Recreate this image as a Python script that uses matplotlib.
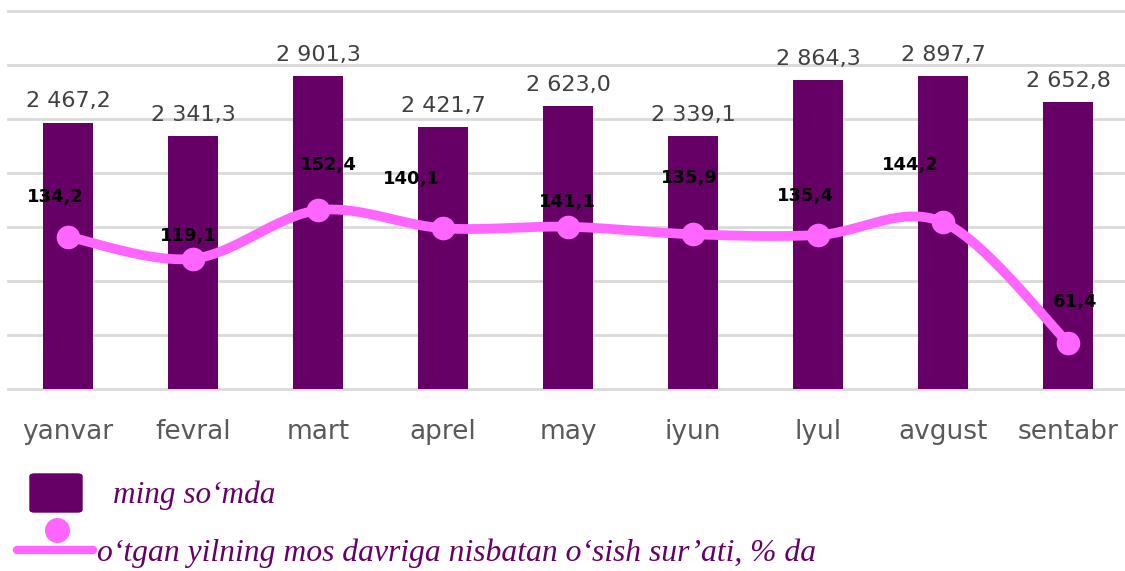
import numpy as np
import matplotlib
matplotlib.use('Agg')
import matplotlib.pyplot as plt
from matplotlib.patches import FancyBboxPatch
from matplotlib.lines import Line2D

months = ['yanvar', 'fevral', 'mart', 'aprel', 'may', 'iyun', 'lyul', 'avgust', 'sentabr']
amount = [2467.2, 2341.3, 2901.3, 2421.7, 2623.0, 2339.1, 2864.3, 2897.7, 2652.8]
growth = [134.2, 119.1, 152.4, 140.1, 141.1, 135.9, 135.4, 144.2, 61.4]
# label offsets (pixels) for the growth values, as placed in the original
growth_offsets = [(-13, 40), (-5, 23), (10, 45), (-32, 49), (-1, 25), (-4, 56), (-13, 39), (-33, 57), (7, 41)]

bar_color = '#660066'
line_color = '#FF66FF'


def fmt(v):
    s = f'{v:,.1f}'
    return s.replace(',', ' ').replace('.', ',')


def smooth(xs, ys, n=30):
    # Catmull-Rom spline through the points (like Excel "smoothed line")
    pts = np.column_stack([xs, ys])
    out = []
    for i in range(len(pts) - 1):
        p0 = pts[i - 1] if i > 0 else pts[i]
        p1, p2 = pts[i], pts[i + 1]
        p3 = pts[i + 2] if i + 2 < len(pts) else pts[i + 1]
        c1 = p1 + (p2 - p0) / 6
        c2 = p2 - (p3 - p1) / 6
        t = np.linspace(0, 1, n)[:, None]
        seg = (1 - t) ** 3 * p1 + 3 * (1 - t) ** 2 * t * c1 + 3 * (1 - t) * t ** 2 * c2 + t ** 3 * p2
        out.append(seg)
    return np.vstack(out)


fig = plt.figure(figsize=(11.25, 5.71), dpi=100)
W, H = 1125, 571
ax = fig.add_axes([8 / W, (H - 389) / H, (1125 - 8) / W, 378 / H])
x = np.arange(len(months))
ax.bar(x, amount, width=0.4, color=bar_color, zorder=2)
ax.set_xlim(-0.48, 8.456)
ax.set_ylim(0, 3500)
ax.set_yticks(np.arange(0, 3501, 500))
ax.yaxis.grid(True, color='#D9D9D9', linewidth=2)
ax.set_axisbelow(True)
ax.set_xticks(x)
ax.set_xticklabels(months)
for s in ax.spines.values():
    s.set_visible(False)
for xi, v in zip(x, amount):
    ax.annotate(fmt(v), (xi, v), xytext=(0, 8), textcoords='offset points',
                ha='center', va='bottom', fontsize=16, color='#404040')

ax2 = ax.twinx()
ax2.set_ylim(29.5, 289.5)
ax2.axis('off')
ax2.set_xlim(ax.get_xlim())

ax.tick_params(axis='y', left=False, right=False, labelleft=False)
ax.tick_params(axis='x', bottom=False, labelsize=19, labelcolor='#595959', pad=18)
for gl in ax.get_ygridlines():
    gl.set_clip_on(False)

# smoothing in display space
disp = ax2.transData.transform(np.column_stack([x, growth]))
curve = smooth(disp[:, 0], disp[:, 1])
curve = ax2.transData.inverted().transform(curve)
ax2.plot(curve[:, 0], curve[:, 1], color=line_color, linewidth=7, solid_capstyle='round', zorder=3)
ax2.plot(x, growth, 'o', color=line_color, markersize=16, zorder=4)
for xi, v, (dx, dy) in zip(x, growth, growth_offsets):
    ax2.annotate(f'{v:.1f}'.replace('.', ','), (xi, v), xytext=(dx * 0.72, dy * 0.72),
                 textcoords='offset points', ha='center', va='center',
                 fontsize=13, fontweight='bold', color='black', zorder=5)

# legend drawn by hand
fig.patches.append(FancyBboxPatch((30 / W, (H - 512) / H), 52 / W, 38 / H,
                                  boxstyle='round,pad=0,rounding_size=0.004',
                                  transform=fig.transFigure, color=bar_color))
fig.text(113 / W, (H - 495) / H, 'ming so‘mda', fontsize=22.5, style='italic',
         family='Liberation Serif', color=bar_color, va='center')
fig.lines.append(Line2D([57 / W], [(H - 530) / H], marker='o', markersize=17,
                        color=line_color, transform=fig.transFigure))
fig.lines.append(Line2D([17 / W, 93 / W], [(H - 550) / H] * 2, linewidth=6,
                        color=line_color, solid_capstyle='round', transform=fig.transFigure))
fig.text(97 / W, (H - 553) / H, 'o‘tgan yilning mos davriga nisbatan o‘sish sur’ati, % da',
         fontsize=22.8, style='italic', family='Liberation Serif', color=bar_color, va='center')

fig.savefig('out.png', dpi=100)
